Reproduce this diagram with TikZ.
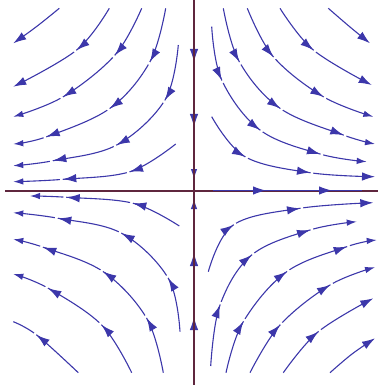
\documentclass[tikz,border=0pt]{standalone}
\usetikzlibrary{arrows.meta,calc}
\definecolor{streamc}{RGB}{60,55,170}
\definecolor{axisc}{RGB}{95,38,62}
\tikzset{
  flow/.style={draw=streamc, line width=1.1pt},
  endarr/.style={-{Latex[length=10pt,width=6.5pt]}},
  bigend/.style={-{Latex[length=13pt,width=8.5pt]}},
  flowtip/.style={draw=streamc, line width=1.1pt, -{Latex[length=13pt,width=8.5pt]}},
  gapline/.style={draw=white, line width=2.6pt},
  axisline/.style={draw=axisc, line width=2pt},
  sm/.style={smooth, tension=0.6}
}
% arrowhead at #2 with a small gap after it, tangent along (#3)-(#1)
\newcommand\flowarrow[3]{%
  \draw[gapline] let \p1=($#3-#1$), \n1={atan2(\y1,\x1)} in ($#2+(\n1:0.6pt)$) -- ($#2+(\n1:3.2pt)$);
  \draw[flowtip] let \p1=($#3-#1$), \n1={atan2(\y1,\x1)} in ($#2+(\n1+180:2pt)$) -- #2;}
% arrowhead at #2 without gap (on the axes)
\newcommand\axisarrow[3]{\draw[flowtip] let \p1=($#3-#1$), \n1={atan2(\y1,\x1)} in ($#2+(\n1+180:2pt)$) -- #2;}
\begin{document}
\begin{tikzpicture}[x=1pt,y=-1pt]
\useasboundingbox (0,0) rectangle (378,385);
% streams along vertical axis (under the axis)
\draw[flow,endarr] (194,10) -- (194,179);
\draw[flow,endarr] (194,378) -- (194,199);
\axisarrow{(194,10)}{(194,62)}{(194,179)}
\axisarrow{(194,10)}{(194,127)}{(194,179)}
\axisarrow{(194,378)}{(194,317)}{(194,199)}
\axisarrow{(194,378)}{(194,253)}{(194,199)}
% axes
\draw[axisline] (194,0) -- (194,385);
\draw[axisline] (5,190.5) -- (378,190.5);
% stream along horizontal axis
\draw[flow] (213,190.5) -- (362,190.5);
\axisarrow{(213,190.5)}{(266,190.5)}{(362,190.5)}
\axisarrow{(213,190.5)}{(332,190.5)}{(362,190.5)}
% ---------- top-left
\draw[flow,bigend] plot[sm] coordinates {(59.3,8.3) (36,27) (13.3,43.3)};
\draw[flow,bigend] plot[sm] coordinates {(109.3,8.3) (76.7,50) (13.3,86.7)};
\flowarrow{(109.3,8.3)}{(76.7,50)}{(13.3,86.7)}
\draw[flow,endarr] plot[sm] coordinates {(141.7,8.3) (115,55) (63.3,96.7) (13.3,116.7)};
\flowarrow{(141.7,8.3)}{(115,55)}{(63.3,96.7)}
\flowarrow{(115,55)}{(63.3,96.7)}{(13.3,116.7)}
\draw[flow,endarr] plot[sm] coordinates {(165.7,8.3) (150,61.7) (110,108.3) (46.7,136.7) (13.3,144)};
\flowarrow{(165.7,8.3)}{(150,61.7)}{(110,108.3)}
\flowarrow{(150,61.7)}{(110,108.3)}{(46.7,136.7)}
\flowarrow{(110,108.3)}{(46.7,136.7)}{(13.3,144)}
\draw[flow,endarr] plot[sm] coordinates {(178.3,45) (165,100) (116.7,145) (53.3,160.7) (13.3,165.7)};
\flowarrow{(178.3,45)}{(165,100)}{(116.7,145)}
\flowarrow{(165,100)}{(116.7,145)}{(53.3,160.7)}
\flowarrow{(116.7,145)}{(53.3,160.7)}{(13.3,165.7)}
\draw[flow,endarr] plot[sm] coordinates {(175.7,144) (130,171.7) (63.3,179.3) (13.3,181.7)};
\flowarrow{(175.7,144)}{(130,171.7)}{(63.3,179.3)}
\flowarrow{(130,171.7)}{(63.3,179.3)}{(13.3,181.7)}
% ---------- top-right
\draw[flow,bigend] plot[sm] coordinates {(328.3,8.3) (350,27) (370,43.3)};
\draw[flow,bigend] plot[sm] coordinates {(280,8.3) (313.3,50) (371.7,85)};
\flowarrow{(280,8.3)}{(313.3,50)}{(371.7,85)}
\draw[flow,endarr] plot[sm] coordinates {(247.3,8.3) (273.3,56.7) (323.3,96.7) (373.3,116.7)};
\flowarrow{(247.3,8.3)}{(273.3,56.7)}{(323.3,96.7)}
\flowarrow{(273.3,56.7)}{(323.3,96.7)}{(373.3,116.7)}
\draw[flow,endarr] plot[sm] coordinates {(223.3,8.3) (239.3,61.7) (280,108.3) (343.3,135) (375,144)};
\flowarrow{(223.3,8.3)}{(239.3,61.7)}{(280,108.3)}
\flowarrow{(239.3,61.7)}{(280,108.3)}{(343.3,135)}
\flowarrow{(280,108.3)}{(343.3,135)}{(375,144)}
\draw[flow,endarr] plot[sm] coordinates {(211.7,26.7) (221.7,80) (260,130) (320,154) (366.7,161.7)};
\flowarrow{(211.7,26.7)}{(221.7,80)}{(260,130)}
\flowarrow{(221.7,80)}{(260,130)}{(320,154)}
\flowarrow{(260,130)}{(320,154)}{(366.7,161.7)}
\draw[flow,bigend] plot[sm] coordinates {(211.7,116.7) (245,156.7) (310,172.7) (375,176.7)};
\flowarrow{(211.7,116.7)}{(245,156.7)}{(310,172.7)}
\flowarrow{(245,156.7)}{(310,172.7)}{(375,176.7)}
% ---------- bottom-left
\draw[flow,endarr] plot[sm] coordinates {(179.3,226) (133.3,203.3) (66.7,197.3) (30,196)};
\flowarrow{(179.3,226)}{(133.3,203.3)}{(66.7,197.3)}
\flowarrow{(133.3,203.3)}{(66.7,197.3)}{(30,196)}
\draw[flow,endarr] plot[sm] coordinates {(180,331.7) (168.3,278.3) (121.7,233.3) (58.3,218.3) (13.3,212.7)};
\flowarrow{(180,331.7)}{(168.3,278.3)}{(121.7,233.3)}
\flowarrow{(168.3,278.3)}{(121.7,233.3)}{(58.3,218.3)}
\flowarrow{(121.7,233.3)}{(58.3,218.3)}{(13.3,212.7)}
\draw[flow,endarr] plot[sm] coordinates {(163.3,372.7) (146.7,318.3) (103.3,271.7) (43.3,247.3) (13.3,239.3)};
\flowarrow{(163.3,372.7)}{(146.7,318.3)}{(103.3,271.7)}
\flowarrow{(146.7,318.3)}{(103.3,271.7)}{(43.3,247.3)}
\flowarrow{(103.3,271.7)}{(43.3,247.3)}{(13.3,239.3)}
\draw[flow,endarr] plot[sm] coordinates {(131.7,372.7) (101.7,325) (48.3,288.3) (13.3,274)};
\flowarrow{(131.7,372.7)}{(101.7,325)}{(48.3,288.3)}
\flowarrow{(101.7,325)}{(48.3,288.3)}{(13.3,274)}
\draw[flow] plot[sm] coordinates {(78.3,372.7) (36.7,335) (13.3,321.7)};
\flowarrow{(78.3,372.7)}{(36.7,335)}{(13.3,321.7)}
% ---------- bottom-right
\draw[flow,bigend] plot[sm] coordinates {(208.3,271.7) (233.3,225) (300,208.3) (373.3,202.7)};
\flowarrow{(208.3,271.7)}{(233.3,225)}{(300,208.3)}
\flowarrow{(233.3,225)}{(300,208.3)}{(373.3,202.7)}
\draw[flow,endarr] plot[sm] coordinates {(210.7,366) (220,305) (251.7,255) (310,230) (356.7,221.7)};
\flowarrow{(210.7,366)}{(220,305)}{(251.7,255)}
\flowarrow{(220,305)}{(251.7,255)}{(310,230)}
\flowarrow{(251.7,255)}{(310,230)}{(356.7,221.7)}
\draw[flow,endarr] plot[sm] coordinates {(226,372.7) (243.3,321.7) (286.7,271.7) (346.7,246.7) (376.7,240)};
\flowarrow{(226,372.7)}{(243.3,321.7)}{(286.7,271.7)}
\flowarrow{(243.3,321.7)}{(286.7,271.7)}{(346.7,246.7)}
\flowarrow{(286.7,271.7)}{(346.7,246.7)}{(376.7,240)}
\draw[flow,endarr] plot[sm] coordinates {(250,372.7) (280,325) (330,285) (375,267.3)};
\flowarrow{(250,372.7)}{(280,325)}{(330,285)}
\flowarrow{(280,325)}{(330,285)}{(375,267.3)}
\draw[flow,bigend] plot[sm] coordinates {(283.3,372.7) (318.3,331.7) (373.3,298.3)};
\flowarrow{(283.3,372.7)}{(318.3,331.7)}{(373.3,298.3)}
\draw[flow,bigend] plot[sm] coordinates {(330,372.7) (352,354) (375,338.3)};
\end{tikzpicture}
\end{document}
